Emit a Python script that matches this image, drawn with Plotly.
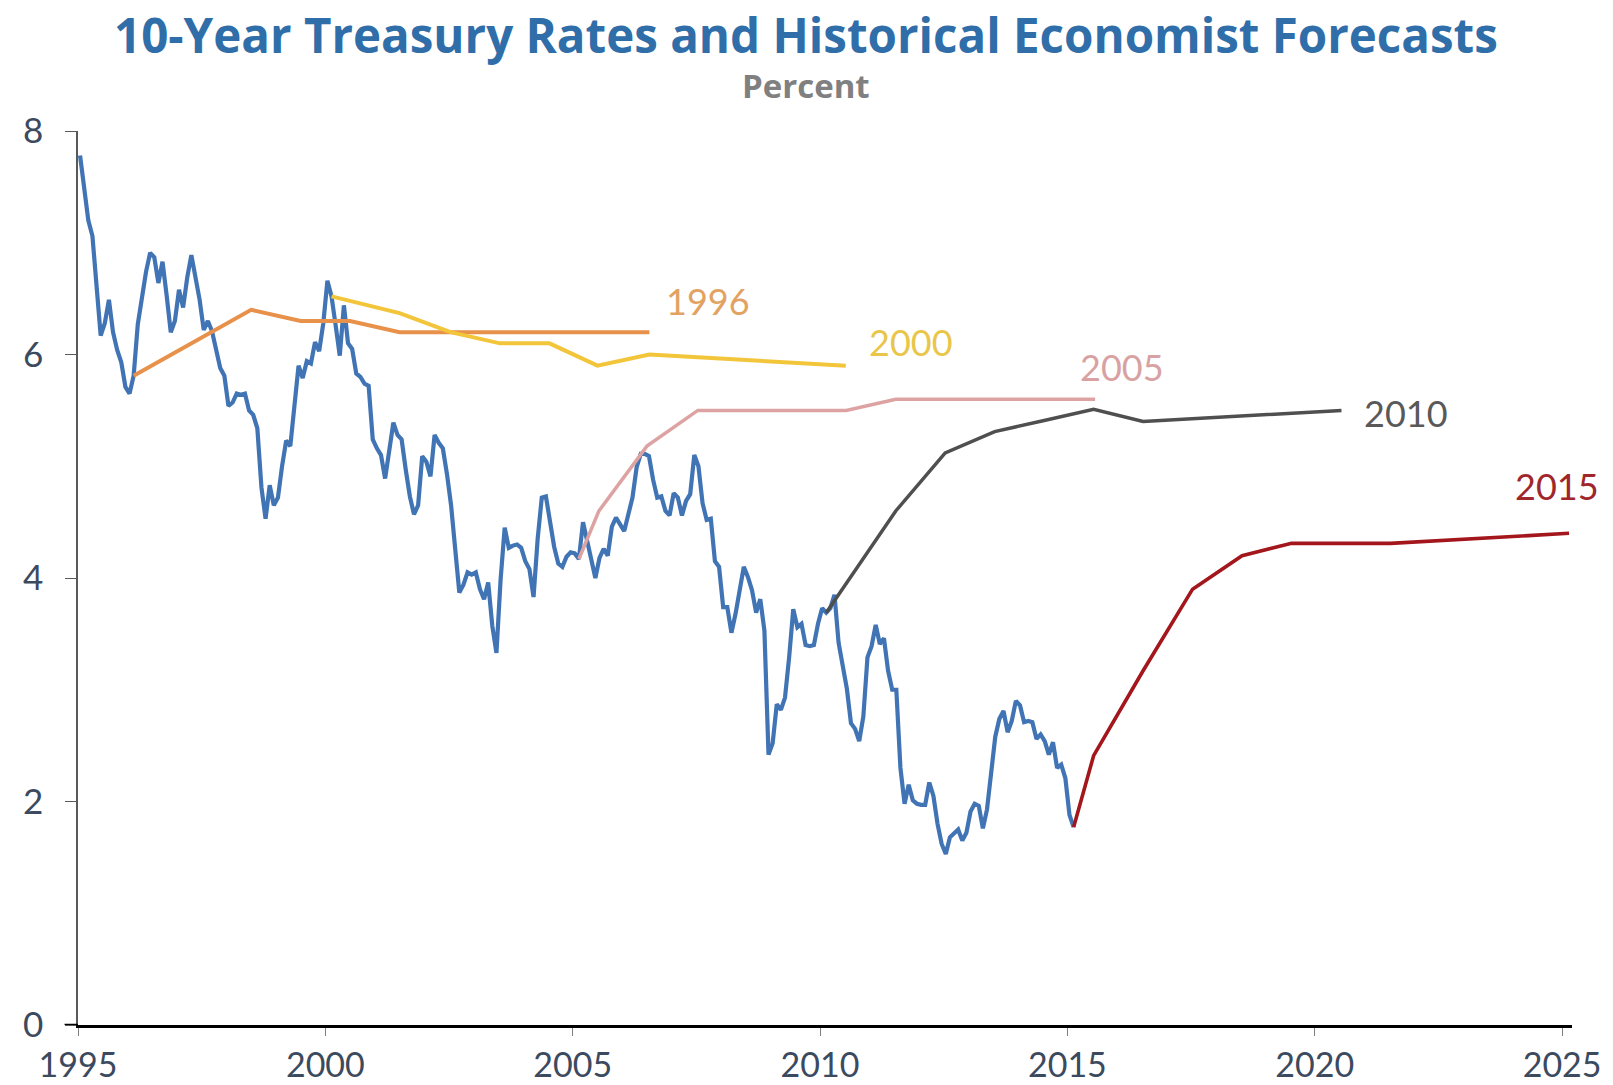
import plotly.graph_objects as go

# Monthly 10-year Treasury constant-maturity yields (percent), January to December
gs10_1995 = [7.78, 7.47, 7.20, 7.06, 6.63, 6.17, 6.28, 6.49, 6.20, 6.04, 5.93, 5.71]
gs10_1996 = [5.65, 5.81, 6.27, 6.51, 6.74, 6.91, 6.87, 6.64, 6.83, 6.53, 6.20, 6.30]
gs10_1997 = [6.58, 6.42, 6.69, 6.89, 6.71, 6.49, 6.22, 6.30, 6.21, 6.03, 5.88, 5.81]
gs10_1998 = [5.54, 5.57, 5.65, 5.64, 5.65, 5.50, 5.46, 5.34, 4.81, 4.53, 4.83, 4.65]
gs10_1999 = [4.72, 5.00, 5.23, 5.18, 5.54, 5.90, 5.79, 5.94, 5.92, 6.11, 6.03, 6.28]
gs10_2000 = [6.66, 6.52, 6.26, 5.99, 6.44, 6.10, 6.05, 5.83, 5.80, 5.74, 5.72, 5.24]
gs10_2001 = [5.16, 5.10, 4.89, 5.14, 5.39, 5.28, 5.24, 4.97, 4.73, 4.57, 4.65, 5.09]
gs10_2002 = [5.04, 4.91, 5.28, 5.21, 5.16, 4.93, 4.65, 4.26, 3.87, 3.94, 4.05, 4.03]
gs10_2003 = [4.05, 3.90, 3.81, 3.96, 3.57, 3.33, 3.98, 4.45, 4.27, 4.29, 4.30, 4.27]
gs10_2004 = [4.15, 4.08, 3.83, 4.35, 4.72, 4.73, 4.50, 4.28, 4.13, 4.10, 4.19, 4.23]
gs10_2005 = [4.22, 4.17, 4.50, 4.34, 4.14, 4.00, 4.18, 4.26, 4.20, 4.46, 4.54, 4.47]
gs10_2006 = [4.42, 4.57, 4.72, 4.99, 5.11, 5.11, 5.09, 4.88, 4.72, 4.73, 4.60, 4.56]
gs10_2007 = [4.76, 4.72, 4.56, 4.69, 4.75, 5.10, 5.00, 4.67, 4.52, 4.53, 4.15, 4.10]
gs10_2008 = [3.74, 3.74, 3.51, 3.68, 3.88, 4.10, 4.01, 3.89, 3.69, 3.81, 3.53, 2.42]
gs10_2009 = [2.52, 2.87, 2.82, 2.93, 3.29, 3.72, 3.56, 3.59, 3.40, 3.39, 3.40, 3.59]
gs10_2010 = [3.73, 3.69, 3.73, 3.85, 3.42, 3.20, 3.01, 2.70, 2.65, 2.54, 2.76, 3.29]
gs10_2011 = [3.39, 3.58, 3.41, 3.46, 3.17, 3.00, 3.00, 2.30, 1.98, 2.15, 2.01, 1.98]
gs10_2012 = [1.97, 1.97, 2.17, 2.05, 1.80, 1.62, 1.53, 1.68, 1.72, 1.75, 1.65, 1.72]
gs10_2013 = [1.91, 1.98, 1.96, 1.76, 1.93, 2.30, 2.58, 2.74, 2.81, 2.62, 2.72, 2.90]
gs10_2014 = [2.86, 2.71, 2.72, 2.71, 2.56, 2.60, 2.54, 2.42, 2.53, 2.30, 2.33, 2.21]
gs10_2015 = [1.88, 1.77]

# Economist forecast paths (decimal year, percent)
f1996_x = [1996.125, 1998.5, 1999.5, 2000.5, 2001.5, 2006.55]
f1996_y = [5.81, 6.40, 6.30, 6.30, 6.20, 6.20]

f2000_x = [2000.125, 2001.5, 2002.53, 2003.53, 2004.53, 2005.5, 2006.55, 2010.52]
f2000_y = [6.52, 6.37, 6.20, 6.10, 6.10, 5.90, 6.00, 5.90]

f2005_x = [2005.125, 2005.53, 2006.5, 2007.53, 2010.53, 2011.53, 2015.56]
f2005_y = [4.17, 4.60, 5.18, 5.50, 5.50, 5.60, 5.60]

f2010_x = [2010.125, 2010.37, 2011.53, 2012.53, 2013.53, 2014.53, 2015.53, 2016.53, 2020.54]
f2010_y = [3.69, 3.85, 4.60, 5.12, 5.31, 5.41, 5.51, 5.40, 5.50]

f2015_x = [2015.125, 2015.53, 2016.53, 2017.53, 2018.53, 2019.53, 2021.53, 2025.14]
f2015_y = [1.77, 2.41, 3.17, 3.90, 4.20, 4.31, 4.31, 4.40]

x_ticks = [1995, 2000, 2005, 2010, 2015, 2020, 2025]
y_ticks = [0, 2, 4, 6, 8]

FONT = "Lato"
HEAD_FONT = "Open Sans"
TICK_COLOR = "#3B4A5E"

rates = (gs10_1995 + gs10_1996 + gs10_1997 + gs10_1998 + gs10_1999 + gs10_2000
         + gs10_2001 + gs10_2002 + gs10_2003 + gs10_2004 + gs10_2005 + gs10_2006
         + gs10_2007 + gs10_2008 + gs10_2009 + gs10_2010 + gs10_2011 + gs10_2012
         + gs10_2013 + gs10_2014 + gs10_2015)
rate_x = [1995 + (i + 0.5) / 12 for i in range(len(rates))]

fig = go.Figure()

fig.add_trace(go.Scatter(x=rate_x, y=rates, mode="lines",
                         line=dict(color="#4174B5", width=4.2),
                         hoverinfo="skip", showlegend=False))

forecasts = [
    ("1996", f1996_x, f1996_y, "#E8914A", 4.0, "#E2A262", 2006.84, 6.48),
    ("2000", f2000_x, f2000_y, "#F2C53A", 4.0, "#E9C64A", 2010.95, 6.11),
    ("2005", f2005_x, f2005_y, "#DDA3A2", 3.5, "#D9A2A2", 2015.21, 5.89),
    ("2010", f2010_x, f2010_y, "#4F4F4F", 3.5, "#595959", 2020.95, 5.48),
    ("2015", f2015_x, f2015_y, "#A3161C", 3.6, "#A0262B", 2024.0, 4.82),
]

for name, fx, fy, color, width, label_color, lx, ly in forecasts:
    fig.add_trace(go.Scatter(x=fx, y=fy, mode="lines",
                             line=dict(color=color, width=width),
                             hoverinfo="skip", showlegend=False, name=name))
    fig.add_annotation(x=lx, y=ly, xref="x", yref="y", text=name,
                       showarrow=False, xanchor="left", yanchor="middle",
                       font=dict(family=FONT, size=36, color=label_color))

# Title and unit line
fig.add_annotation(x=0.4876, y=1.1079, xref="paper", yref="paper",
                   text="<b>10-Year Treasury Rates and Historical Economist Forecasts</b>",
                   showarrow=False, xanchor="center", yanchor="middle",
                   font=dict(family=HEAD_FONT, size=47.5, color="#2F6EA9"))
fig.add_annotation(x=0.4876, y=1.0509, xref="paper", yref="paper",
                   text="<b>Percent</b>", showarrow=False,
                   xanchor="center", yanchor="middle",
                   font=dict(family=HEAD_FONT, size=33, color="#808080"))

# Zero line continues a little to the left of the value axis
fig.add_shape(type="line", xref="paper", yref="y", x0=-0.009, x1=0, y0=0, y1=0,
              line=dict(color="#000000", width=2.5))

fig.update_layout(
    width=1613, height=1085,
    margin=dict(l=78, r=41, t=131, b=60),
    paper_bgcolor="white", plot_bgcolor="white",
    xaxis=dict(range=[1995, 2025.2], tickmode="array", tickvals=x_ticks,
               ticktext=[str(v) for v in x_ticks], automargin=False,
               ticks="outside", ticklen=8, tickwidth=1.2, tickcolor="#7F7F7F",
               showline=True, linecolor="#000000", linewidth=2.5,
               showgrid=False, zeroline=False, ticklabelstandoff=0,
               tickfont=dict(family=FONT, size=34, color=TICK_COLOR)),
    yaxis=dict(range=[0, 8], tickmode="array", tickvals=y_ticks, automargin=False,
               ticks="outside", ticklen=11, tickwidth=1.2, tickcolor="#595959",
               showline=True, linecolor="#595959", linewidth=1.5,
               showgrid=False, zeroline=False, ticklabelstandoff=15,
               tickfont=dict(family=FONT, size=35, color=TICK_COLOR)),
)

fig.write_html("out.html")
